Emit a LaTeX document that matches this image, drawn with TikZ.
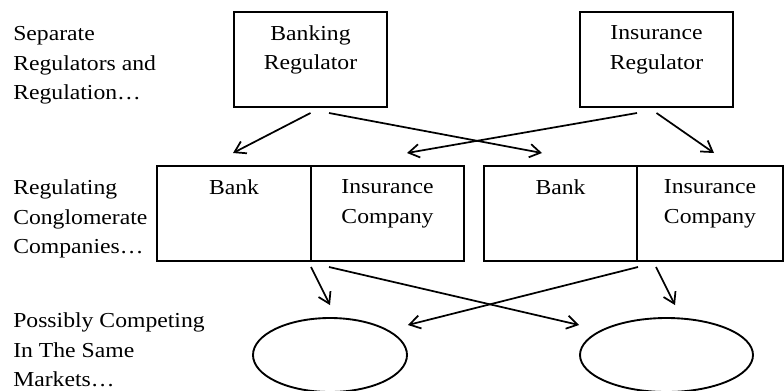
\documentclass[tikz,border=0pt]{standalone}
\usepackage{fontspec}
\setmainfont{Liberation Serif}[FakeStretch=1.11]
\usepackage{tikz}
\usetikzlibrary{positioning}
\usetikzlibrary{shapes.geometric,arrows.meta,calc}
\tikzstyle{regbox} = [rectangle, draw, line width=1.4pt, minimum width=114.75pt,
                minimum height=71.25pt, inner sep=0pt, outer sep=0pt]
\tikzstyle{cell} = [rectangle, draw, line width=1.4pt, minimum height=71.25pt,
                inner sep=0pt, outer sep=0pt]
\tikzstyle{market} = [draw, ellipse, line width=1.4pt, minimum height=55.5pt, inner sep=0pt]
\tikzstyle{line} = [draw, line width=1.3pt, -{Straight Barb[length=8pt,width=10pt]}]
\tikzstyle{caption} = [anchor=north west, align=left, inner sep=0pt]
\tikzstyle{intext} = [anchor=north, align=center, inner sep=10pt]

\begin{document}
\begin{tikzpicture}[x=0.75pt, y=-0.75pt, font=\fontsize{16}{22.1}\selectfont]
            \useasboundingbox (0,0) rectangle (784,390);
            % regulators
            \node[regbox, label={[intext]north:Banking\\Regulator}] (bankreg) at (310.5,59.5) {};
            \node[regbox, label={[intext]north:Insurance\\Regulator}] (insreg) at (656.5,59.5) {};
            % conglomerates
            \node[cell, minimum width=115.5pt, label={[intext]north:Bank}] (bank1) at (234,213.5) {};
            \node[cell, minimum width=114.75pt, right=0pt of bank1, label={[intext]north:Insurance\\Company}] (ins1) {};
            \node[cell, minimum width=114.75pt, right=15pt of ins1, label={[intext]north:Bank}] (bank2) {};
            \node[cell, minimum width=109.5pt, right=0pt of bank2, label={[intext]north:Insurance\\Company}] (ins2) {};
            % markets
            \node[market, minimum width=115.5pt] (mkt1) at (330,355) {};
            \node[market, minimum width=129.75pt] (mkt2) at (666.5,355) {};
            % captions
            \node[caption] (regcap) at (13,26.5) {Separate\\Regulators and\\Regulation…};
            \node[caption] (conglcap) at (13,179.5) {Regulating\\Conglomerate\\Companies…};
            \node[caption] (mktcap) at (13,312.5) {Possibly Competing\\In The Same\\Markets…};
            \path[line] ($(bankreg.south)+(0,6)$) -- ($(bank1.north)+(-1,-13)$);
            \path[line] ($(bankreg.south)+(18.5,6)$) -- ($(bank2.north)+(-18.5,-13)$);
            \path[line] ($(insreg.south)+(-19.5,6)$) -- ($(ins1.north)+(19.5,-13)$);
            \path[line] ($(insreg.south)+(0,6)$) -- ($(ins2.north)+(4,-13)$);
            \path[line] ($(bank1.south east)+(0,6)$) -- ($(mkt1.north)+(0,-12)$);
            \path[line] ($(bank1.south east)+(18,6)$) -- ($(mkt2.west)+(0,-30)$);
            \path[line] ($(bank2.south east)+(1,6)$) -- ($(mkt1.east)+(0,-30)$);
            \path[line] ($(bank2.south east)+(19,6)$) -- ($(mkt2.north)+(8.5,-12)$);
        \end{tikzpicture}
\end{document}
